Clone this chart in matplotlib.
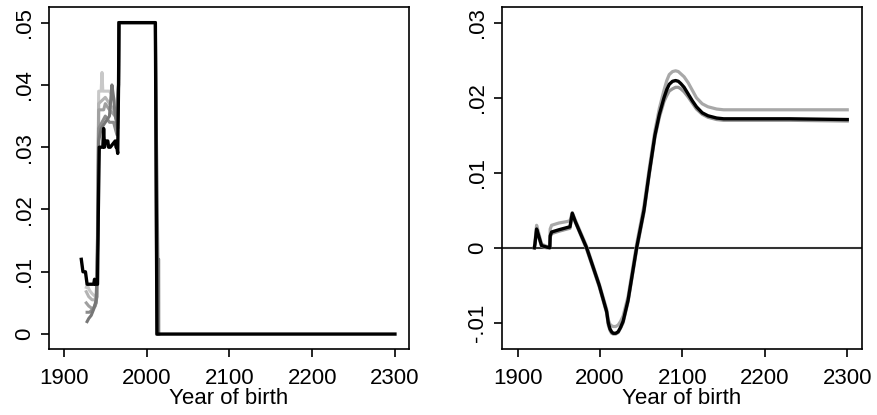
import numpy as np
import matplotlib
matplotlib.use("Agg")
import matplotlib.pyplot as plt

plt.rcParams["font.family"] = ["Liberation Sans", "DejaVu Sans"]

# left panel: black (main) and several grey series
left_black_x = [1921, 1922, 1923, 1926, 1927, 1928, 1936, 1937, 1938, 1940.6, 1941.5, 1942.7,
                1947, 1948, 1949, 1950, 1953, 1954, 1956, 1962, 1963, 1964, 1965, 1966, 1966.5,
                2010.5, 2012.4, 2300]
left_black_y = [0.012, 0.011, 0.010, 0.010, 0.009, 0.008, 0.008, 0.0088, 0.008, 0.008, 0.019, 0.030,
                0.030, 0.033, 0.030, 0.031, 0.031, 0.030, 0.030, 0.031, 0.030, 0.030, 0.029, 0.040, 0.050,
                0.050, 0.000, 0.000]

left_light_x = [1927, 1928, 1931, 1934, 1938, 1940, 1941, 1942, 1945, 1946, 1947, 1955, 1960, 1964, 1966, 1966.5, 2010.5, 2012.4]
left_light_y = [0.0075, 0.0079, 0.007, 0.0065, 0.006, 0.0065, 0.025, 0.039, 0.039, 0.042, 0.039, 0.039, 0.038, 0.036, 0.04, 0.05, 0.05, 0.0]

left_light2_x = [1927, 1930, 1934, 1938, 1940, 1941, 1942, 1950, 1955, 1960, 1964, 1966, 1966.5]
left_light2_y = [0.0068, 0.006, 0.0055, 0.0055, 0.006, 0.022, 0.037, 0.038, 0.037, 0.036, 0.035, 0.04, 0.05]

left_mid_x = [1927, 1930, 1935, 1938, 1940, 1941, 1942, 1948, 1950, 1955, 1962, 1965, 1966, 1966.5, 2010.5, 2012.4]
left_mid_y = [0.005, 0.0045, 0.004, 0.0045, 0.006, 0.02, 0.036, 0.036, 0.037, 0.036, 0.035, 0.034, 0.04, 0.05, 0.05, 0.0]

left_mid2_x = [1928, 1931, 1935, 1939, 1941, 1942, 1946, 1950, 1955, 1960, 1964, 1966, 1966.5]
left_mid2_y = [0.0035, 0.0035, 0.004, 0.005, 0.018, 0.033, 0.034, 0.035, 0.034, 0.034, 0.032, 0.04, 0.05]

left_dark_x = [1928, 1930, 1933, 1936, 1939, 1941, 1942, 1945, 1950, 1955, 1958, 1960, 1962, 1965, 1966, 1966.5,
               2010.5, 2011.5, 2013.5, 2014.5, 2014.6]
left_dark_y = [0.002, 0.0025, 0.003, 0.004, 0.0055, 0.015, 0.031, 0.033, 0.034, 0.035, 0.040, 0.038, 0.035, 0.033, 0.04, 0.05,
               0.05, 0.035, 0.012, 0.012, 0.0]

# right panel
right_x = [1920.2, 1921, 1923, 1925, 1929, 1935, 1939, 1939.5, 1941.2, 1950, 1960, 1963.5, 1966.3, 1970,
           1983.7, 1999, 2008, 2010, 2012, 2014, 2016, 2019, 2022, 2025, 2028, 2034, 2044.4, 2053.3, 2059.7,
           2066.6, 2072, 2077.6, 2081, 2084, 2088, 2091.7, 2095, 2098, 2102, 2107, 2112, 2117, 2124,
           2131, 2141.5, 2150, 2230, 2300]
right_black = [0, 0.0005, 0.0025, 0.0018, 0.0003, 0.0001, 0.0, 0.0016, 0.0021, 0.0024, 0.0027, 0.0028, 0.0046, 0.0035,
               0.0, -0.005, -0.0085, -0.0100, -0.0108, -0.0112, -0.0114, -0.0114, -0.0112, -0.0106, -0.0098, -0.007,
               0.0, 0.005, 0.010, 0.015, 0.0178, 0.020, 0.0211, 0.0218, 0.0222, 0.0223, 0.0222, 0.0219, 0.0214,
               0.0205, 0.0196, 0.0188, 0.0180, 0.0176, 0.0173, 0.0172, 0.0172, 0.0171]
right_upper = [0, 0.0008, 0.003, 0.0022, 0.0005, 0.0002, 0.0001, 0.0025, 0.003, 0.0033, 0.0035, 0.0036, 0.0047, 0.0037,
               0.0002, -0.0048, -0.0082, -0.0096, -0.0102, -0.0104, -0.0105, -0.0105, -0.0103, -0.0098, -0.0091, -0.0065,
               0.0005, 0.0056, 0.0106, 0.0156, 0.0186, 0.021, 0.0223, 0.0231, 0.0235, 0.0236, 0.0235, 0.0232, 0.0228,
               0.0220, 0.0210, 0.0200, 0.0192, 0.0188, 0.0185, 0.0184, 0.0184, 0.0184]
right_lower = [0, 0.0004, 0.0023, 0.0016, 0.0002, 0.0, 0.0, 0.0014, 0.0019, 0.0022, 0.0025, 0.0026, 0.0045, 0.0034,
               -0.0002, -0.0052, -0.0087, -0.0103, -0.0110, -0.0114, -0.0115, -0.0115, -0.0113, -0.0107, -0.0100, -0.0072,
               -0.0003, 0.0047, 0.0097, 0.0147, 0.0174, 0.0195, 0.0203, 0.0209, 0.0212, 0.0214, 0.0214, 0.0212, 0.0208,
               0.0201, 0.0193, 0.0185, 0.0178, 0.0174, 0.0171, 0.0170, 0.0170, 0.0169]

xticks = [1900, 2000, 2100, 2200, 2300]

fig = plt.figure(figsize=(8.77, 4.15), dpi=100)
ax1 = fig.add_axes([0.0559, 0.159, 0.4105, 0.824])
ax2 = fig.add_axes([0.5724, 0.159, 0.4101, 0.824])

ax1.plot(left_light_x, left_light_y, color="#c8c8c8", lw=2.2)
ax1.plot(left_light2_x, left_light2_y, color="#b4b4b4", lw=2.2)
ax1.plot(left_mid_x, left_mid_y, color="#a0a0a0", lw=2.2)
ax1.plot(left_mid2_x, left_mid2_y, color="#8c8c8c", lw=2.2)
ax1.plot(left_dark_x, left_dark_y, color="#777777", lw=2.2)
ax1.plot(left_black_x, left_black_y, color="black", lw=2.4)
ax1.set_xlim(1882, 2317)
ax1.set_ylim(-0.0024, 0.0525)
ax1.set_yticks([0, 0.01, 0.02, 0.03, 0.04, 0.05])
ax1.set_yticklabels(["0", ".01", ".02", ".03", ".04", ".05"], rotation=90, va="center")

ax2.axhline(0, color="#333333", lw=1.5)
ax2.plot(right_x, right_upper, color="#a8a8a8", lw=2.3)
ax2.plot(right_x, right_lower, color="#959595", lw=2.3)
ax2.plot(right_x, right_black, color="black", lw=2.4)
ax2.set_xlim(1881, 2317.5)
ax2.set_ylim(-0.0135, 0.0321)
ax2.set_yticks([-0.01, 0, 0.01, 0.02, 0.03])
ax2.set_yticklabels(["-.01", "0", ".01", ".02", ".03"], rotation=90, va="center")

for ax in (ax1, ax2):
    ax.set_xticks(xticks)
    ax.set_xticklabels([str(t) for t in xticks])
    ax.tick_params(direction="out", length=6, width=1.2, labelsize=16, pad=4)
    ax.tick_params(axis="x", pad=8)
    ax.set_xlabel("Year of birth", fontsize=16, labelpad=-1)
    for s in ax.spines.values():
        s.set_linewidth(1.2)

fig.savefig("out.png", dpi=100)
